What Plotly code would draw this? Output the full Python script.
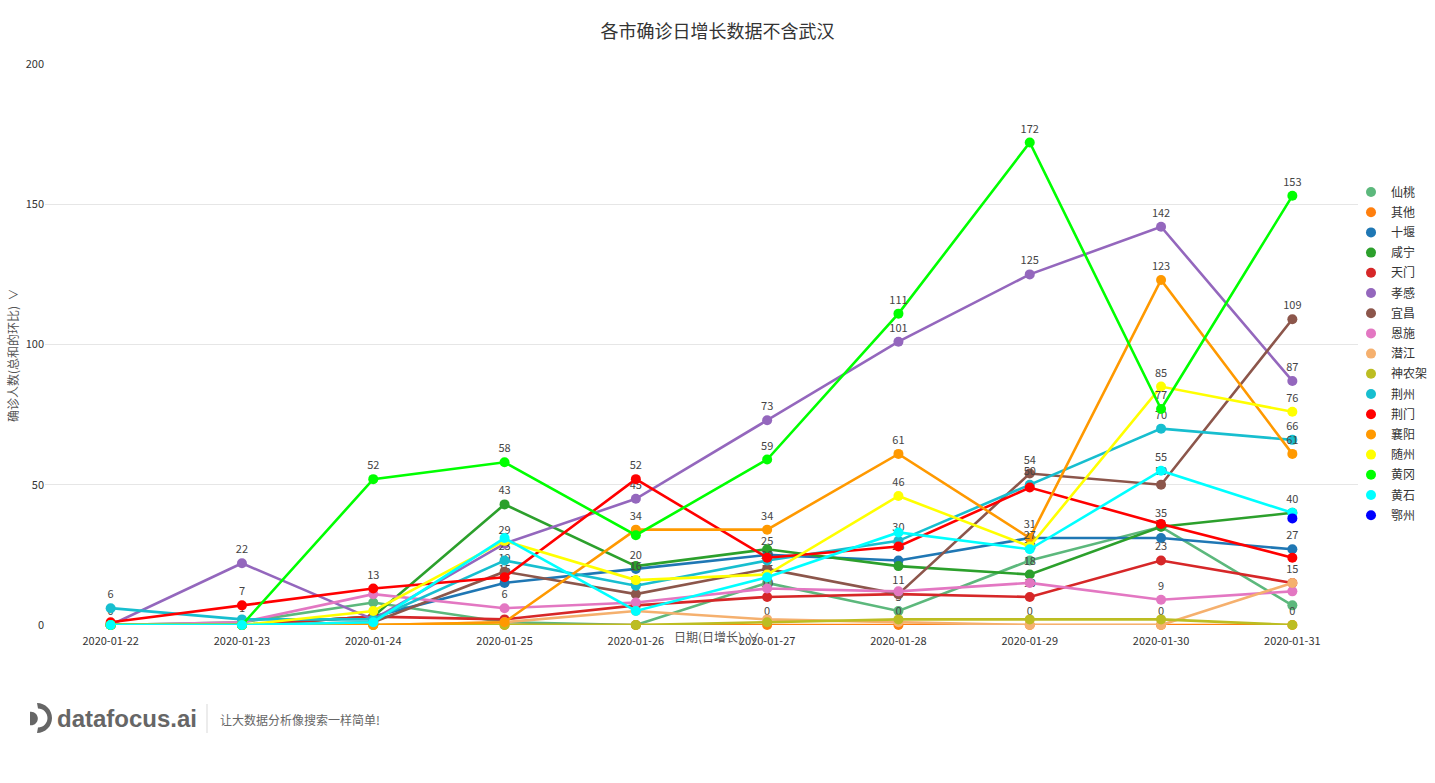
import plotly.graph_objects as go

dates = ["2020-01-22", "2020-01-23", "2020-01-24", "2020-01-25", "2020-01-26",
         "2020-01-27", "2020-01-28", "2020-01-29", "2020-01-30", "2020-01-31"]

xiantao   = [0, 1, 8, 1, 0, 15, 5, 23, 35, 7]
qita      = [0, 0, 0, 0, 0, 0, 0, 0, 0, 0]
shiyan    = [0, 0, 3, 15, 20, 25, 23, 31, 31, 27]
xianning  = [0, 0, 3, 43, 21, 27, 21, 18, 35, 40]
tianmen   = [0, 0, 3, 2, 7, 10, 11, 10, 23, 15]
xiaogan   = [0, 22, 2, 29, 45, 73, 101, 125, 142, 87]
yichang   = [0, 0, 1, 19, 11, 20, 11, 54, 50, 109]
enshi     = [0, 1, 11, 6, 8, 13, 12, 15, 9, 12]
qianjiang = [0, 0, 0, 1, 5, 2, 1, 0, 0, 15]
shennongjia = [0, 0, 0, 0, 0, 1, 2, 2, 2, 0]
jingzhou  = [6, 2, 2, 23, 14, 23, 30, 50, 70, 66]
jingmen   = [1, 7, 13, 17, 52, 24, 28, 49, 36, 24]
xiangyang = [0, 0, 0, 1, 34, 34, 61, 31, 123, 61]
suizhou   = [0, 0, 5, 30, 16, 18, 46, 28, 85, 76]
huanggang = [0, 0, 52, 58, 32, 59, 111, 172, 77, 153]
huangshi  = [0, 0, 1, 31, 5, 17, 33, 27, 55, 40]
ezhou     = [None, None, None, None, None, None, None, None, None, 38]

series_names = ["仙桃", "其他", "十堰", "咸宁", "天门", "孝感", "宜昌", "恩施", "潜江",
                "神农架", "荆州", "荆门", "襄阳", "随州", "黄冈", "黄石", "鄂州"]
series_values = [xiantao, qita, shiyan, xianning, tianmen, xiaogan, yichang, enshi, qianjiang,
                 shennongjia, jingzhou, jingmen, xiangyang, suizhou, huanggang, huangshi, ezhou]
series_colors = ["#5cb87c", "#ff7f0e", "#1f77b4", "#2ca02c", "#d62728", "#9467bd", "#8c564b",
                 "#e377c2", "#f5b06e", "#bcbd22", "#17becf", "#ff0000", "#ff9900", "#ffff00",
                 "#00ff00", "#00ffff", "#0000ff"]

FONT = "Noto Sans CJK SC, Microsoft YaHei, sans-serif"
W, H = 1435, 783
Y_MAX = 200

# plot area in pixels (for decoration placement only)
L, R, T, B = 45, 1358, 64, 625
def px(x):
    return (x - L) / (R - L)
def py(y):
    return (B - y) / (B - T)

# hide value labels that would collide with an earlier series' label (like hideOverlap)
px_per_unit = (B - T) / Y_MAX
MIN_GAP = 9
label_texts = [[""] * len(dates) for _ in series_values]
for j in range(len(dates)):
    kept = []
    for i, vals in enumerate(series_values):
        v = vals[j]
        if v is None:
            continue
        if all(abs(v - k) * px_per_unit >= MIN_GAP for k in kept):
            kept.append(v)
            label_texts[i][j] = str(v)

fig = go.Figure()
for name, vals, col, txt in zip(series_names, series_values, series_colors, label_texts):
    fig.add_trace(go.Scatter(
        x=dates, y=vals, name=name, legendgroup=name, showlegend=False,
        mode="lines+markers+text",
        line=dict(color=col, width=2.6),
        marker=dict(color=col, size=10),
        text=txt,
        textposition="top center",
        textfont=dict(size=11, color="#444", family=FONT),
        cliponaxis=False,
    ))
    fig.add_trace(go.Scatter(
        x=[None], y=[None], name=name, legendgroup=name, showlegend=True,
        mode="markers", marker=dict(color=col, size=10),
    ))

fig.update_layout(
    width=W, height=H,
    paper_bgcolor="white", plot_bgcolor="white",
    font=dict(family=FONT, size=12, color="#333"),
    margin=dict(l=L, r=W - R, t=T, b=H - B, autoexpand=False),
    title=dict(text="各市确诊日增长数据不含武汉", x=0.5, xref="container",
               y=1 - 32 / H, yref="container", yanchor="middle", xanchor="center",
               font=dict(size=18, color="#333", family=FONT)),
    showlegend=True,
    legend=dict(x=px(1351), xanchor="left", y=py(354), yanchor="middle",
                font=dict(size=12, color="#333", family=FONT),
                itemclick=False, itemdoubleclick=False, tracegroupgap=1.2,
                bgcolor="rgba(0,0,0,0)"),
    xaxis=dict(type="category", range=[-0.5, 9.5], showgrid=False, zeroline=False,
               showline=False, ticks="outside", ticklen=6, tickcolor="rgba(0,0,0,0)",
               tickfont=dict(size=11, color="#333", family=FONT), fixedrange=True),
    yaxis=dict(range=[0, Y_MAX], tickvals=[0, 50, 100, 150, 200], showgrid=True,
               gridcolor="#e6e6e6", gridwidth=1, zeroline=False, showline=False,
               ticks="", tickfont=dict(size=11, color="#333", family=FONT), fixedrange=True),
    hovermode=False,
)

annotations = [
    dict(text="确诊人数(总和的环比)  ∨", x=px(12), y=py(355), xref="paper", yref="paper",
         textangle=-90, showarrow=False, xanchor="center", yanchor="middle",
         font=dict(size=12, color="#555", family=FONT)),
    dict(text="日期(日增长)  ∨", x=px(717), y=py(636), xref="paper", yref="paper",
         showarrow=False, xanchor="center", yanchor="middle",
         font=dict(size=12, color="#555", family=FONT)),
    dict(text="<b>datafocus.ai</b>", x=px(55), y=py(718), xref="paper", yref="paper",
         showarrow=False, xanchor="left", yanchor="middle",
         font=dict(size=24, color="#666", family="Liberation Sans, Arial, sans-serif")),
    dict(text="让大数据分析像搜索一样简单!", x=px(218), y=py(719), xref="paper", yref="paper",
         showarrow=False, xanchor="left", yanchor="middle",
         font=dict(size=12, color="#666", family=FONT)),
]
fig.update_layout(annotations=annotations)

def P(x, y):
    return f"{px(x):.5f},{py(y):.5f}"

k = 0.5523
r1, cx1, cy1 = 15, 37, 718
r2, cx2 = 9.5, 38
crescent = (
    f"M {P(cx1, cy1 - r1)} "
    f"C {P(cx1 + k*r1, cy1 - r1)} {P(cx1 + r1, cy1 - k*r1)} {P(cx1 + r1, cy1)} "
    f"C {P(cx1 + r1, cy1 + k*r1)} {P(cx1 + k*r1, cy1 + r1)} {P(cx1, cy1 + r1)} "
    f"L {P(cx2, cy1 + r2)} "
    f"C {P(cx2 + k*r2, cy1 + r2)} {P(cx2 + r2, cy1 + k*r2)} {P(cx2 + r2, cy1)} "
    f"C {P(cx2 + r2, cy1 - k*r2)} {P(cx2 + k*r2, cy1 - r2)} {P(cx2, cy1 - r2)} Z"
)
r3, cx3, cy3 = 6.8, 31, 718.5
dpiece = (
    f"M {P(cx3 - 1, cy3 - r3)} L {P(cx3, cy3 - r3)} "
    f"C {P(cx3 + k*r3, cy3 - r3)} {P(cx3 + r3, cy3 - k*r3)} {P(cx3 + r3, cy3)} "
    f"C {P(cx3 + r3, cy3 + k*r3)} {P(cx3 + k*r3, cy3 + r3)} {P(cx3, cy3 + r3)} "
    f"L {P(cx3 - 1, cy3 + r3)} Z"
)
shapes = [
    dict(type="path", path=crescent, xref="paper", yref="paper",
         fillcolor="#666", line=dict(width=0)),
    dict(type="path", path=dpiece, xref="paper", yref="paper",
         fillcolor="#666", line=dict(width=0)),
    dict(type="line", x0=px(207), x1=px(207), y0=py(704), y1=py(733), xref="paper", yref="paper",
         line=dict(color="#d9d9d9", width=1)),
]
fig.update_layout(shapes=shapes)

fig.write_html("out.html", config={"displayModeBar": False},
               post_script="document.body.style.margin='0';document.body.style.overflow='hidden';")
